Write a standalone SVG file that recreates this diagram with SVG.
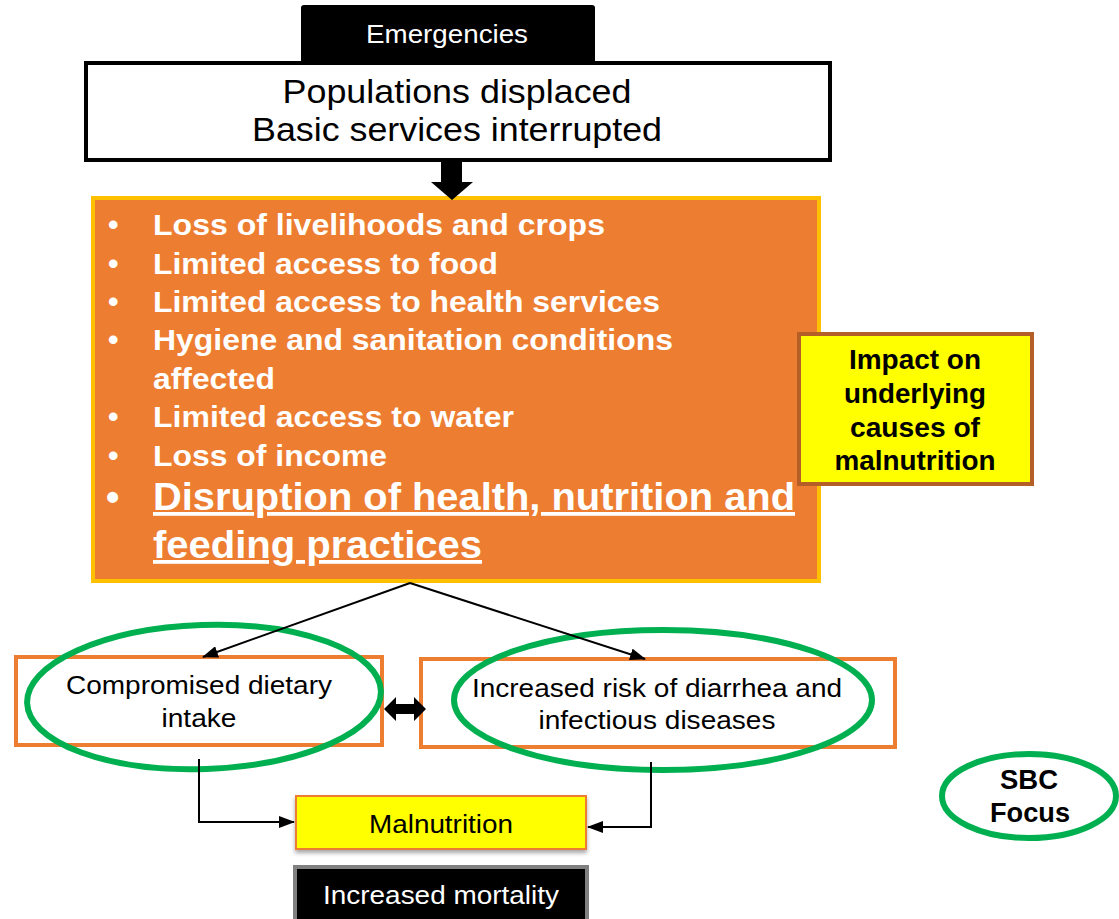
<svg xmlns="http://www.w3.org/2000/svg" width="1119" height="919" viewBox="0 0 1119 919">
<style>
text{font-family:"Liberation Sans",Arial,sans-serif}
.c{text-anchor:middle}
.w{fill:#fff}
.b{font-weight:bold}
.bul{fill:#fff;font-weight:bold;font-size:30px}
.ob{fill:#fff;stroke:#ED7D31;stroke-width:4}
.ring{fill:none;stroke:#00B050;stroke-width:6}
.ln{fill:none;stroke:#000;stroke-width:2}
</style>
<defs>
<marker id="ah2" markerWidth="16" markerHeight="12" refX="15" refY="6" orient="auto" markerUnits="userSpaceOnUse" viewBox="0 0 16 12"><path d="M0,0 L16,6 L0,12 z" fill="#000"/></marker>
<filter id="sh" x="-10%" y="-20%" width="120%" height="150%"><feDropShadow dx="0" dy="3" stdDeviation="2" flood-color="#000" flood-opacity="0.35"/></filter>
</defs>

<g id="emergencies">
<rect x="301" y="5" width="294" height="60" rx="3" fill="#000"/>
<text x="447" y="43" class="c w" font-size="25" textLength="162" lengthAdjust="spacingAndGlyphs">Emergencies</text>
</g>

<g id="populations">
<rect x="86" y="63" width="744" height="97" fill="#fff" stroke="#000" stroke-width="4"/>
<text x="457" y="103" class="c" font-size="34" textLength="349" lengthAdjust="spacingAndGlyphs">Populations displaced</text>
<text x="457" y="141" class="c" font-size="34" textLength="410" lengthAdjust="spacingAndGlyphs">Basic services interrupted</text>
</g>

<g id="impacts">
<rect x="93" y="198" width="726" height="383" fill="#ED7D31" stroke="#FFC000" stroke-width="4"/>
<g class="bul">
<text x="108" y="235">•</text><text x="153" y="235" textLength="452" lengthAdjust="spacingAndGlyphs">Loss of livelihoods and crops</text>
<text x="108" y="274">•</text><text x="153" y="274" textLength="345" lengthAdjust="spacingAndGlyphs">Limited access to food</text>
<text x="108" y="312">•</text><text x="153" y="312" textLength="507" lengthAdjust="spacingAndGlyphs">Limited access to health services</text>
<text x="108" y="350">•</text><text x="153" y="350" textLength="520" lengthAdjust="spacingAndGlyphs">Hygiene and sanitation conditions</text>
<text x="153" y="389" textLength="122" lengthAdjust="spacingAndGlyphs">affected</text>
<text x="108" y="427">•</text><text x="153" y="427" textLength="361" lengthAdjust="spacingAndGlyphs">Limited access to water</text>
<text x="108" y="466">•</text><text x="153" y="466" textLength="234" lengthAdjust="spacingAndGlyphs">Loss of income</text>
</g>
<text x="106" y="510" class="w b" font-size="38">•</text>
<text x="153" y="510" class="w b" font-size="38" text-decoration="underline" textLength="642" lengthAdjust="spacingAndGlyphs">Disruption of health, nutrition and</text>
<text x="153" y="558" class="w b" font-size="38" text-decoration="underline" textLength="329" lengthAdjust="spacingAndGlyphs">feeding practices</text>
</g>

<g id="underlying">
<rect x="799" y="334" width="233" height="150" fill="#FFFF00" stroke="#B45F27" stroke-width="4"/>
<text x="915" y="369" class="c b" font-size="27" textLength="132" lengthAdjust="spacingAndGlyphs">Impact on</text>
<text x="915" y="403" class="c b" font-size="27" textLength="142" lengthAdjust="spacingAndGlyphs">underlying</text>
<text x="915" y="437" class="c b" font-size="27" textLength="130" lengthAdjust="spacingAndGlyphs">causes of</text>
<text x="915" y="470" class="c b" font-size="27" textLength="161" lengthAdjust="spacingAndGlyphs">malnutrition</text>
</g>

<g id="dietary">
<rect x="16" y="657" width="366" height="88" class="ob"/>
<text x="199" y="694" class="c" font-size="25" textLength="266" lengthAdjust="spacingAndGlyphs">Compromised dietary</text>
<text x="199" y="727" class="c" font-size="25" textLength="75" lengthAdjust="spacingAndGlyphs">intake</text>
<ellipse cx="204" cy="697" rx="177" ry="72" class="ring" transform="rotate(-2 204 697)"/>
</g>

<g id="diarrhea">
<rect x="421" y="659" width="474" height="88" class="ob"/>
<text x="657" y="697" class="c" font-size="25" textLength="370" lengthAdjust="spacingAndGlyphs">Increased risk of diarrhea and</text>
<text x="657" y="729" class="c" font-size="25" textLength="237" lengthAdjust="spacingAndGlyphs">infectious diseases</text>
<ellipse cx="663" cy="700" rx="209" ry="70" class="ring"/>
</g>

<g id="malnutrition">
<rect x="296" y="796" width="290" height="53" fill="#FFFF00" stroke="#ED7D31" stroke-width="2" filter="url(#sh)"/>
<text x="441" y="833" class="c" font-size="25" textLength="144" lengthAdjust="spacingAndGlyphs">Malnutrition</text>
</g>

<g id="mortality">
<rect x="295" y="867" width="292" height="54" fill="#000" stroke="#808080" stroke-width="4"/>
<text x="441" y="904" class="c w" font-size="25" textLength="236" lengthAdjust="spacingAndGlyphs">Increased mortality</text>
</g>

<g id="sbc">
<ellipse cx="1029" cy="796" rx="87" ry="42" class="ring"/>
<text x="1029" y="789" class="c b" font-size="27" textLength="58" lengthAdjust="spacingAndGlyphs">SBC</text>
<text x="1030" y="822" class="c b" font-size="27" textLength="80" lengthAdjust="spacingAndGlyphs">Focus</text>
</g>

<g id="connectors">
<path d="M441,160 H462 V182 H473 L452,200 L431,182 H441 Z" fill="#000"/>
<line x1="410" y1="583" x2="203" y2="657" class="ln" marker-end="url(#ah2)"/>
<line x1="410" y1="583" x2="645" y2="659" class="ln" marker-end="url(#ah2)"/>
<path d="M384,709 L396,697 V704 H414 V697 L426,709 L414,721 V714 H396 V721 Z" fill="#000"/>
<path d="M199,759 V822 H294" class="ln" marker-end="url(#ah2)"/>
<path d="M651,762 V827 H588" class="ln" marker-end="url(#ah2)"/>
</g>
</svg>
